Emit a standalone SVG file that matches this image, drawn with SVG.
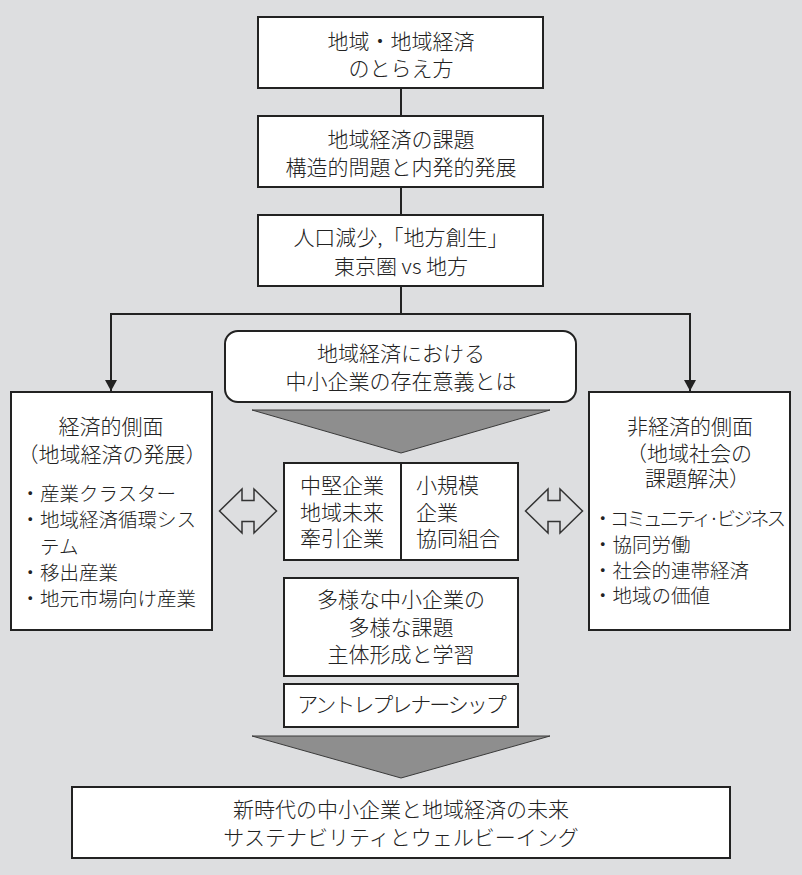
<svg xmlns="http://www.w3.org/2000/svg" width="802" height="875" viewBox="0 0 802 875">
<defs>
<marker id="ah" markerWidth="12" markerHeight="12" refX="11" refY="6" orient="auto" markerUnits="userSpaceOnUse">
<path d="M0,0 L11,6 L0,12 z" fill="#222"/>
</marker>
<style>
.bx{fill:#fff;stroke:#222;stroke-width:2}
.t{font-family:"Noto Sans CJK JP","Noto Sans CJK SC",sans-serif;font-size:21px;font-weight:300;fill:#222}
.c{text-anchor:middle}
.s{font-size:19.5px}
.ln{fill:none;stroke:#222;stroke-width:2}
.tri{fill:#8e8e8e;stroke:#3a3a3a;stroke-width:1}
.da{fill:none;stroke:#333;stroke-width:1.5;stroke-linejoin:miter}
</style>
</defs>
<rect x="0" y="0" width="802" height="875" fill="#dddee0"/>

<g id="connectors">
<line class="ln" x1="401" y1="88" x2="401" y2="115"/>
<line class="ln" x1="401" y1="187" x2="401" y2="215"/>
<polyline class="ln" points="401,286 401,314"/>
<polyline class="ln" points="401,314 111,314 111,391" marker-end="url(#ah)"/>
<polyline class="ln" points="401,314 690,314 690,391" marker-end="url(#ah)"/>
</g>

<g id="node-toraekata">
<rect class="bx" x="258" y="17" width="285" height="71"/>
<text class="t c" x="401" y="49">地域・地域経済</text>
<text class="t c" x="401" y="76">のとらえ方</text>
</g>

<g id="node-kadai">
<rect class="bx" x="258" y="116" width="285" height="71"/>
<text class="t c" x="401" y="147">地域経済の課題</text>
<text class="t c" x="401" y="175">構造的問題と内発的発展</text>
</g>

<g id="node-jinko">
<rect class="bx" x="258" y="215" width="285" height="71"/>
<text class="t c" x="401" y="245">人口減少,「地方創生」</text>
<text class="t c" x="401" y="274">東京圏 vs 地方</text>
</g>

<g id="node-igi">
<rect class="bx" x="225" y="331" width="351" height="71" rx="13" ry="13"/>
<text class="t c" x="401" y="361">地域経済における</text>
<text class="t c" x="401" y="389">中小企業の存在意義とは</text>
</g>

<g id="triangle-top">
<polygon class="tri" points="252,410 550,410 401,453"/>
</g>

<g id="node-keizai">
<rect class="bx" x="11" y="392" width="201" height="238"/>
<text class="t c" x="111" y="434">経済的側面</text>
<text class="t c" x="112" y="462">（地域経済の発展）</text>
<text class="t s" x="20.5" y="501">・産業クラスター</text>
<text class="t s" x="20.5" y="527">・地域経済循環シス</text>
<text class="t s" x="40" y="554">テム</text>
<text class="t s" x="20.5" y="580">・移出産業</text>
<text class="t s" x="20.5" y="606">・地元市場向け産業</text>
</g>

<g id="node-hikeizai">
<rect class="bx" x="589" y="392" width="201" height="238"/>
<text class="t c" x="690" y="434">非経済的側面</text>
<text class="t c" x="689" y="461">（地域社会の</text>
<text class="t" x="645" y="486">課題解決）</text>
<text class="t s" x="593" y="526" letter-spacing="-2.8">・コミュニティ·ビジネス</text>
<text class="t s" x="593" y="552">・協同労働</text>
<text class="t s" x="593" y="578">・社会的連帯経済</text>
<text class="t s" x="593" y="603">・地域の価値</text>
</g>

<g id="arrow-left">
<path class="da" d="M219.5,511 L242,489 L242,500.5 L254,500.5 L254,489 L276.5,511 L254,533 L254,521.5 L242,521.5 L242,533 Z"/>
</g>
<g id="arrow-right">
<path class="da" d="M525.5,511 L548,489 L548,500.5 L560,500.5 L560,489 L582.5,511 L560,533 L560,521.5 L548,521.5 L548,533 Z"/>
</g>

<g id="node-kigyo">
<rect class="bx" x="284" y="463" width="234" height="97"/>
<line x1="401" y1="463" x2="401" y2="560" stroke="#222" stroke-width="2"/>
<text class="t" x="300" y="493">中堅企業</text>
<text class="t" x="300" y="520">地域未来</text>
<text class="t" x="300" y="546">牽引企業</text>
<text class="t" x="416" y="493">小規模</text>
<text class="t" x="416" y="520">企業</text>
<text class="t" x="416" y="546">協同組合</text>
</g>

<g id="node-tayo">
<rect class="bx" x="284" y="578" width="234" height="98"/>
<text class="t c" x="401" y="607">多様な中小企業の</text>
<text class="t c" x="401" y="635">多様な課題</text>
<text class="t c" x="401" y="662">主体形成と学習</text>
</g>

<g id="node-entre">
<rect class="bx" x="284" y="684" width="234" height="43"/>
<text class="t c" x="401" y="712" letter-spacing="-2">アントレプレナーシップ</text>
</g>

<g id="triangle-bottom">
<polygon class="tri" points="252,736 550,736 401,778"/>
</g>

<g id="node-mirai">
<rect class="bx" x="72" y="787" width="658" height="71"/>
<text class="t c" x="401" y="817">新時代の中小企業と地域経済の未来</text>
<text class="t c" x="401" y="845">サステナビリティとウェルビーイング</text>
</g>
</svg>
